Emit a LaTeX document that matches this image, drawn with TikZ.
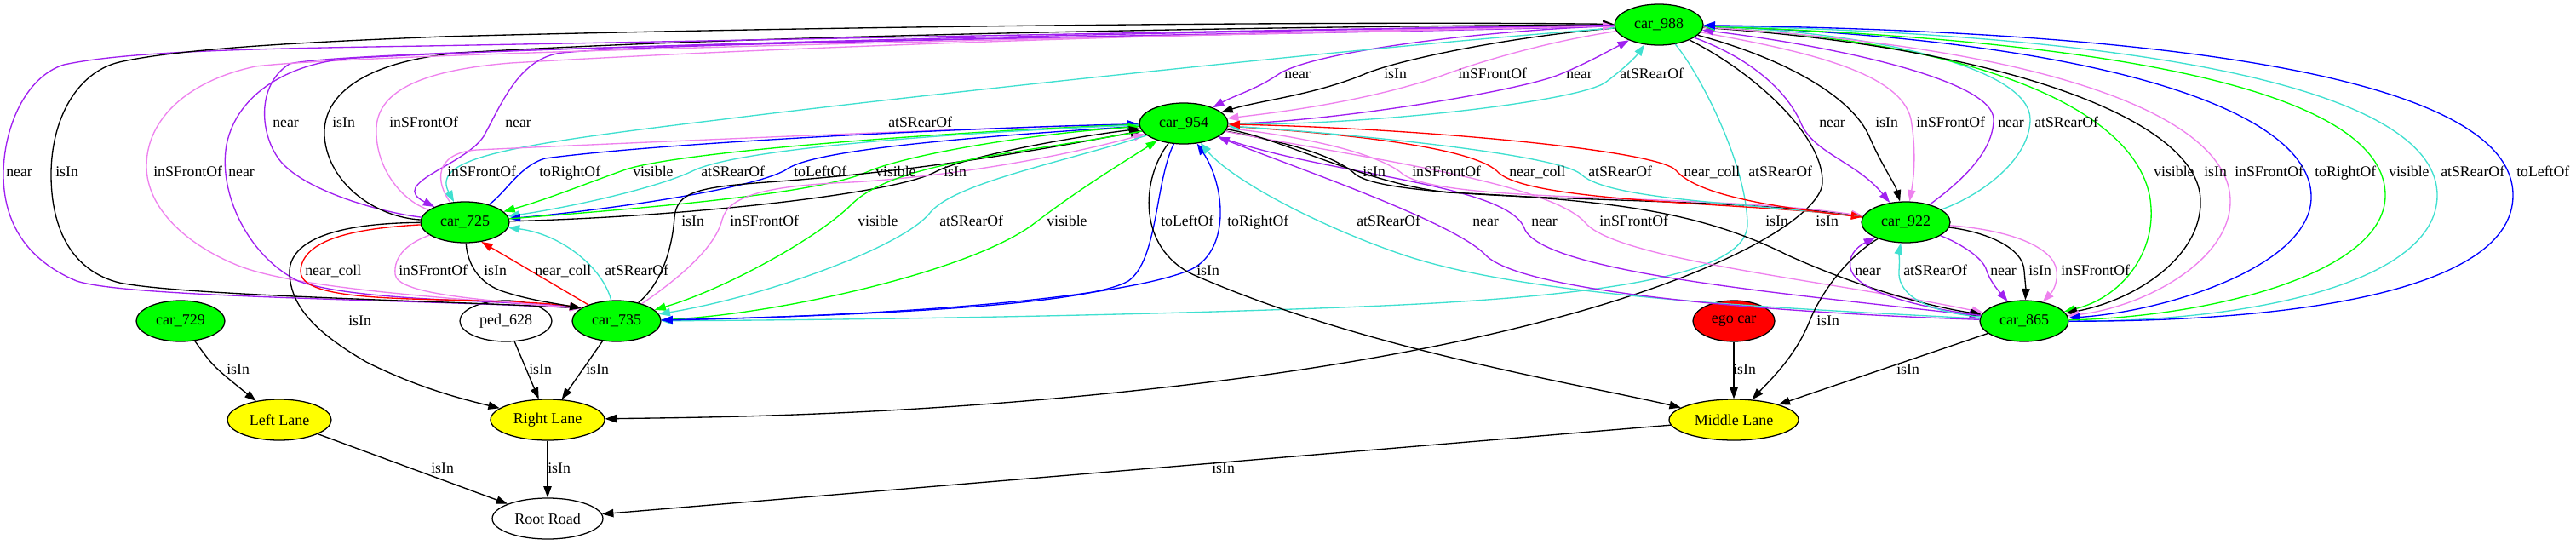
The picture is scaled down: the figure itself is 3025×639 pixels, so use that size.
\documentclass[tikz,border=0pt]{standalone}
\usepackage{fontspec}
\setmainfont{Liberation Serif}
\usetikzlibrary{shapes.geometric,arrows.meta}
\definecolor{cPu}{HTML}{A020F0}
\definecolor{cVi}{HTML}{EE82EE}
\definecolor{cTq}{HTML}{40E0D0}
\definecolor{cGr}{HTML}{00FF00}
\definecolor{cBl}{HTML}{0000FF}
\definecolor{cRd}{HTML}{FF0000}
\definecolor{ndGreen}{HTML}{00FF00}
\definecolor{ndYellow}{HTML}{FFFF00}
\definecolor{ndRed}{HTML}{FF0000}
\newcommand{\ndfnt}{\fontsize{13.5}{16}\selectfont}
\newcommand{\lbfnt}{\fontsize{13.3}{16}\selectfont}
\begin{document}
\begin{tikzpicture}[x=0.75pt,y=-0.75pt,
  nd/.style={ellipse, draw, line width=0.95pt, minimum height=36pt, inner sep=0pt, font=\ndfnt},
  carnd/.style={nd, fill=ndGreen, minimum width=78pt},
  lanend/.style={nd, fill=ndYellow},
  lbl/.style={inner sep=0pt, anchor=base west, font=\lbfnt},
  ar/.style={line width=1pt, -{Triangle[length=10pt,width=7pt]}}]
\useasboundingbox (0,0) rectangle (3025,639);
\fill[white] (0,0) rectangle (3025,639);
% ---------------- nodes
\node[carnd] (c988) at (1948,29) {car\_988};
\node[carnd] (c954) at (1390,145) {car\_954};
\node[carnd] (c725) at (546,261) {car\_725};
\node[carnd] (c922) at (2238,261) {car\_922};
\node[carnd] (c729) at (212,377) {car\_729};
\node[nd, minimum width=81pt] (p628) at (594,377) {ped\_628};
\node[carnd] (c735) at (724,377) {car\_735};
\node[nd, fill=ndRed, minimum width=72pt] (ego) at (2036,377) {ego car};
\node[carnd] (c865) at (2377,377) {car\_865};
\node[lanend, minimum width=91.5pt] (LL) at (328,493) {Left Lane};
\node[lanend, minimum width=100.5pt] (RL) at (643,493) {Right Lane};
\node[lanend, minimum width=114pt] (ML) at (2036,493) {Middle Lane};
\node[nd, minimum width=97.5pt] (RR) at (643,609) {Root Road};
% ---------------- car_988 <-> car_954
\draw[ar,cPu] (c988) .. controls (1750,35) and (1540,60) .. (1500,88) .. controls (1475,105) and (1450,112) .. (c954);
\draw[ar,black] (c988) .. controls (1780,42) and (1640,70) .. (1600,88) .. controls (1540,112) and (1480,118) .. (c954);
\draw[ar,cVi] (c988) .. controls (1810,50) and (1730,75) .. (1690,90) .. controls (1600,120) and (1500,132) .. (c954);
\draw[ar,cPu] (c954) .. controls (1550,145) and (1780,108) .. (1830,88) .. controls (1860,76) and (1885,62) .. (c988);
\draw[ar,cTq] (c954) .. controls (1600,148) and (1850,120) .. (1885,97) .. controls (1905,82) and (1920,68) .. (c988);
% ---------------- car_988 <-> car_922
\draw[ar,cPu] (c988) .. controls (2060,70) and (2100,110) .. (2115,145) .. controls (2130,180) and (2180,190) .. (c922);
\draw[ar,black] (c988) .. controls (2100,70) and (2175,115) .. (2195,160) .. controls (2210,195) and (2225,215) .. (c922);
\draw[ar,cVi] (c988) .. controls (2120,60) and (2232,85) .. (2244,140) .. controls (2250,175) and (2248,205) .. (c922);
\draw[ar,cPu] (c922) .. controls (2300,215) and (2341,180) .. (2341,140) .. controls (2341,95) and (2160,55) .. (c988);
\draw[ar,cTq] (c922) .. controls (2330,228) and (2384,185) .. (2384,140) .. controls (2384,80) and (2200,38) .. (c988);
% ---------------- car_988 <-> car_865
\draw[ar,cGr] (c988) .. controls (2350,50) and (2522,140) .. (2526,245) .. controls (2529,300) and (2490,350) .. (c865);
\draw[ar,black] (c988) .. controls (2350,55) and (2582,140) .. (2584,235) .. controls (2586,300) and (2510,352) .. (c865);
\draw[ar,cVi] (c988) .. controls (2400,55) and (2617,135) .. (2619,235) .. controls (2620,305) and (2520,360) .. (c865);
\draw[ar,cBl] (c988) .. controls (2450,45) and (2712,125) .. (2714,230) .. controls (2716,310) and (2550,365) .. (c865);
\draw[ar,cGr] (c865) .. controls (2600,372) and (2800,320) .. (2801,230) .. controls (2802,110) and (2500,48) .. (c988);
\draw[ar,cTq] (c865) .. controls (2650,378) and (2861,330) .. (2862,230) .. controls (2863,110) and (2550,42) .. (c988);
\draw[ar,cBl] (c865) .. controls (2700,378) and (2950,340) .. (2951,230) .. controls (2952,100) and (2600,38) .. (c988);
% ---------------- car_988 -> Right Lane, car_988 -> car_735
\draw[ar,black] (c988) .. controls (2060,85) and (2142,160) .. (2140,215) .. controls (2138,262) and (1950,380) .. (1450,445) .. controls (1100,490) and (820,490) .. (RL);
\draw[ar,cTq] (c988) .. controls (1995,85) and (2050,190) .. (2052,262) .. controls (2054,320) and (1900,348) .. (1600,360) .. controls (1300,372) and (950,376) .. (c735);
% ---------------- car_988 <-> car_725
\draw[ar,cPu] (c725) .. controls (450,250) and (360,225) .. (330,190) .. controls (305,160) and (300,100) .. (340,75) .. controls (420,55) and (1500,40) .. (c988);
\draw[ar,black] (c725) .. controls (440,255) and (385,215) .. (381,160) .. controls (378,110) and (430,72) .. (540,62) .. controls (900,40) and (1600,30) .. (c988);
\draw[ar,cVi] (c725) .. controls (470,235) and (440,195) .. (442,150) .. controls (444,105) and (500,82) .. (600,74) .. controls (1000,50) and (1600,35) .. (c988);
\draw[ar,cPu] (c988) .. controls (1600,40) and (800,48) .. (660,62) .. controls (610,68) and (590,120) .. (568,160) .. controls (545,195) and (455,215) .. (c725);
\draw[ar,cTq] (c988) .. controls (1600,55) and (1050,115) .. (850,140) .. controls (600,170) and (505,185) .. (c725);
% ---------------- car_988 <-> car_735 (outer)
\draw[ar,cPu] (c735.160) .. controls (500,352) and (150,350) .. (90,330) .. controls (30,305) and (4,260) .. (4,205) .. controls (4,150) and (30,90) .. (75,76) .. controls (150,60) and (300,57) .. (500,54) .. controls (1000,45) and (1600,33) .. (c988);
\draw[ar,black] (c735.160) .. controls (550,354) and (220,348) .. (140,332) .. controls (85,318) and (60,270) .. (60,205) .. controls (60,140) and (90,85) .. (140,73) .. controls (220,55) and (400,48) .. (520,43) .. controls (1000,30) and (1600,25) .. (c988);
\draw[ar,cVi] (c735.160) .. controls (550,352) and (350,340) .. (280,312) .. controls (220,288) and (172,245) .. (172,195) .. controls (172,140) and (220,95) .. (300,78) .. controls (450,60) and (1500,40) .. (c988);
\draw[ar,cPu] (c988) .. controls (1500,35) and (700,52) .. (420,68) .. controls (340,72) and (278,110) .. (266,170) .. controls (256,225) and (290,300) .. (350,330) .. controls (420,355) and (600,352) .. (c735.160);
% ---------------- car_725 <-> car_735
\draw[ar,cRd] (c725) .. controls (420,268) and (355,280) .. (353,318) .. controls (352,345) and (420,350) .. (520,352) .. controls (600,354) and (650,356) .. (c735.160);
\draw[ar,black] (c725) .. controls (400,262) and (338,280) .. (340,322) .. controls (342,360) and (370,390) .. (430,425) .. controls (490,455) and (540,468) .. (RL);
\draw[ar,cVi] (c725) .. controls (480,285) and (462,300) .. (464,322) .. controls (466,345) and (560,352) .. (c735.160);
\draw[ar,black] (c725) .. controls (548,300) and (555,330) .. (590,342) .. controls (620,352) and (650,356) .. (c735.160);
\draw[ar,cRd] (c735.150) -- (c725.-50);
\draw[ar,cTq] (c735) .. controls (708,315) and (660,275) .. (c725);
% ---------------- car_954 <-> car_725
\draw[ar,cVi] (c725) .. controls (512,215) and (508,180) .. (560,176) .. controls (800,165) and (1150,150) .. (c954);
\draw[ar,cBl] (c725) .. controls (595,225) and (610,195) .. (640,186) .. controls (800,165) and (1200,148) .. (c954);
\draw[ar,cGr] (c954) .. controls (1200,150) and (800,175) .. (732,200) .. controls (690,215) and (640,235) .. (c725);
\draw[ar,cTq] (c954) .. controls (1200,152) and (880,170) .. (815,200) .. controls (770,222) and (660,245) .. (c725);
\draw[ar,cBl] (c954) .. controls (1150,160) and (960,175) .. (925,198) .. controls (890,222) and (700,248) .. (c725);
\draw[ar,cGr] (c725) .. controls (750,245) and (960,228) .. (1018,202) .. controls (1060,183) and (1200,158) .. (c954);
\draw[ar,black] (c725) .. controls (800,255) and (1050,228) .. (1098,202) .. controls (1130,185) and (1250,162) .. (c954);
% ---------------- car_954 <-> car_735
\draw[ar,black] (c735) .. controls (780,330) and (790,285) .. (792,255) .. controls (795,225) and (820,220) .. (900,214) .. controls (1100,200) and (1250,170) .. (c954);
\draw[ar,cVi] (c735) .. controls (800,325) and (840,290) .. (848,258) .. controls (855,230) and (900,218) .. (1000,214) .. controls (1150,205) and (1280,175) .. (c954);
\draw[ar,cGr] (c954) .. controls (1200,180) and (1050,190) .. (1000,240) .. controls (960,280) and (850,340) .. (c735);
\draw[ar,cTq] (c954) .. controls (1250,190) and (1120,215) .. (1092,250) .. controls (1060,290) and (900,348) .. (c735);
\draw[ar,cGr] (c735) .. controls (900,372) and (1140,320) .. (1215,262) .. controls (1270,220) and (1320,190) .. (c954);
\draw[ar,cBl] (c954) .. controls (1356,215) and (1360,305) .. (1325,330) .. controls (1270,362) and (950,372) .. (c735);
\draw[ar,cBl] (c735) .. controls (1000,372) and (1300,355) .. (1395,318) .. controls (1445,298) and (1440,220) .. (c954);
% ---------------- car_954 -> Middle Lane
\draw[ar,black] (c954) .. controls (1340,210) and (1335,290) .. (1400,322) .. controls (1600,410) and (1850,450) .. (ML);
% ---------------- car_954 <-> car_922
\draw[ar,black] (c954) .. controls (1500,165) and (1565,180) .. (1592,205) .. controls (1640,240) and (2000,228) .. (c922);
\draw[ar,cVi] (c954) .. controls (1530,160) and (1620,180) .. (1648,205) .. controls (1700,240) and (2000,226) .. (c922);
\draw[ar,cRd] (c954) .. controls (1600,158) and (1735,175) .. (1760,203) .. controls (1800,238) and (2050,238) .. (c922);
\draw[ar,cTq] (c922) .. controls (2050,238) and (1890,235) .. (1857,205) .. controls (1830,180) and (1560,155) .. (c954);
\draw[ar,cRd] (c922) .. controls (2100,245) and (1995,232) .. (1968,200) .. controls (1945,175) and (1650,150) .. (c954);
% ---------------- car_954 <-> car_865
\draw[ar,cTq] (c865) .. controls (2100,362) and (1800,350) .. (1650,300) .. controls (1560,270) and (1450,215) .. (c954);
\draw[ar,cPu] (c865) .. controls (2100,368) and (1790,345) .. (1745,300) .. controls (1710,262) and (1530,200) .. (c954);
\draw[ar,cPu] (c954) .. controls (1550,205) and (1770,215) .. (1790,268) .. controls (1810,320) and (2100,345) .. (c865);
\draw[ar,cVi] (c954) .. controls (1600,185) and (1822,215) .. (1862,262) .. controls (1900,305) and (2150,330) .. (c865);
\draw[ar,black] (c954) .. controls (1500,160) and (1600,215) .. (1700,226) .. controls (1900,235) and (2000,250) .. (2100,300) .. controls (2200,345) and (2280,362) .. (c865);
% ---------------- car_922 <-> car_865
\draw[ar,cPu] (c865) .. controls (2260,362) and (2185,345) .. (2174,318) .. controls (2168,302) and (2180,290) .. (c922);
\draw[ar,cTq] (c865) .. controls (2250,365) and (2228,340) .. (2230,318) .. controls (2231,305) and (2230,295) .. (c922);
\draw[ar,cPu] (c922) .. controls (2295,283) and (2328,300) .. (2333,318) .. controls (2338,333) and (2350,345) .. (c865);
\draw[ar,black] (c922) .. controls (2330,272) and (2376,290) .. (2377,318) .. controls (2378,330) and (2379,340) .. (c865);
\draw[ar,cVi] (c922) .. controls (2360,270) and (2412,290) .. (2415,318) .. controls (2417,335) and (2408,345) .. (c865);
% ---------------- lanes
\draw[ar,black] (c922) .. controls (2172,300) and (2140,340) .. (2125,377) .. controls (2108,420) and (2075,450) .. (ML);
\draw[ar,black] (c865) -- (ML);
\draw[ar,black] (ego) -- (ML);
\draw[ar,black] (c729) .. controls (250,430) .. (LL);
\draw[ar,black] (p628) -- (RL);
\draw[ar,black] (c735) -- (RL);
\draw[ar,black] (LL) -- (RR);
\draw[ar,black] (RL) -- (RR);
\draw[ar,black] (ML) -- (RR);
% ---------------- labels y=87
\node[lbl] (l01) at (1508,92) {near};
\node[lbl] (l02) at (1625,92) {isIn};
\node[lbl] (l03) at (1712,92) {inSFrontOf};
\node[lbl] (l04) at (1839,92) {near};
\node[lbl] (l05) at (1902,92) {atSRearOf};
% y=144
\node[lbl] (l06) at (320,149) {near};
\node[lbl] (l07) at (390,149) {isIn};
\node[lbl] (l08) at (457,149) {inSFrontOf};
\node[lbl] (l09) at (593,149) {near};
\node[lbl] (l10) at (1043,149) {atSRearOf};
\node[lbl] (l11) at (2136,149) {near};
\node[lbl] (l12) at (2202,149) {isIn};
\node[lbl] (l13) at (2250,149) {inSFrontOf};
\node[lbl] (l14) at (2346,149) {near};
\node[lbl] (l15) at (2389,149) {atSRearOf};
% y=202
\node[lbl] (l16) at (7,207) {near};
\node[lbl] (l17) at (65,207) {isIn};
\node[lbl] (l18) at (180,207) {inSFrontOf};
\node[lbl] (l19) at (268,207) {near};
\node[lbl] (l20) at (525,207) {inSFrontOf};
\node[lbl] (l21) at (633,207) {toRightOf};
\node[lbl] (l22) at (743,207) {visible};
\node[lbl] (l23) at (823,207) {atSRearOf};
\node[lbl] (l24) at (932,207) {toLeftOf};
\node[lbl] (l25) at (1028,207) {visible};
\node[lbl] (l26) at (1108,207) {isIn};
\node[lbl] (l27) at (1600,207) {isIn};
\node[lbl] (l28) at (1658,207) {inSFrontOf};
\node[lbl] (l29) at (1772,207) {near\_coll};
\node[lbl] (l30) at (1865,207) {atSRearOf};
\node[lbl] (l31) at (1977,207) {near\_coll};
\node[lbl] (l32) at (2053,207) {atSRearOf};
\node[lbl] (l33) at (2529,207) {visible};
\node[lbl] (l34) at (2588,207) {isIn};
\node[lbl] (l35) at (2624,207) {inSFrontOf};
\node[lbl] (l36) at (2718,207) {toRightOf};
\node[lbl] (l37) at (2805,207) {visible};
\node[lbl] (l38) at (2866,207) {atSRearOf};
\node[lbl] (l39) at (2955,207) {toLeftOf};
% y=260
\node[lbl] (l40) at (800,265) {isIn};
\node[lbl] (l41) at (857,265) {inSFrontOf};
\node[lbl] (l42) at (1007,265) {visible};
\node[lbl] (l43) at (1103,265) {atSRearOf};
\node[lbl] (l44) at (1229,265) {visible};
\node[lbl] (l45) at (1363,265) {toLeftOf};
\node[lbl] (l46) at (1441,265) {toRightOf};
\node[lbl] (l47) at (1593,265) {atSRearOf};
\node[lbl] (l48) at (1729,265) {near};
\node[lbl] (l49) at (1798,265) {near};
\node[lbl] (l50) at (1878,265) {inSFrontOf};
\node[lbl] (l51) at (2073,265) {isIn};
\node[lbl] (l52) at (2132,265) {isIn};
% y=318
\node[lbl] (l53) at (358,323) {near\_coll};
\node[lbl] (l54) at (468,323) {inSFrontOf};
\node[lbl] (l55) at (568,323) {isIn};
\node[lbl] (l56) at (628,323) {near\_coll};
\node[lbl] (l57) at (710,323) {atSRearOf};
\node[lbl] (l58) at (1405,323) {isIn};
\node[lbl] (l59) at (2178,323) {near};
\node[lbl] (l60) at (2235,323) {atSRearOf};
\node[lbl] (l61) at (2337,323) {near};
\node[lbl] (l62) at (2382,323) {isIn};
\node[lbl] (l63) at (2420,323) {inSFrontOf};
% y=377
\node[lbl] (l64) at (409,382) {isIn};
\node[lbl] (l65) at (2133,382) {isIn};
% y=434
\node[lbl] (l66) at (266,439) {isIn};
\node[lbl] (l67) at (621,439) {isIn};
\node[lbl] (l68) at (688,439) {isIn};
\node[lbl] (l69) at (2035,439) {isIn};
\node[lbl] (l70) at (2227,439) {isIn};
% y=550
\node[lbl] (l71) at (506,555) {isIn};
\node[lbl] (l72) at (643,555) {isIn};
\node[lbl] (l73) at (1423,555) {isIn};
\end{tikzpicture}
\end{document}
